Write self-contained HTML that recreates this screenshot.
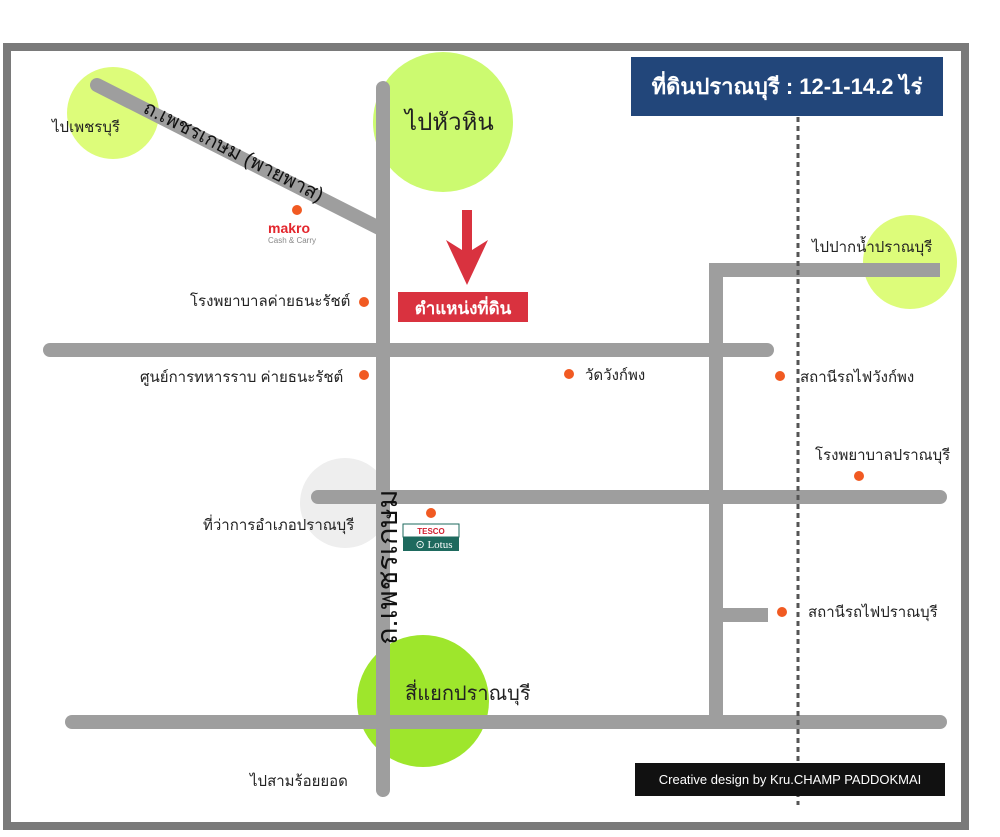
<!DOCTYPE html>
<html><head><meta charset="utf-8"><style>
body{margin:0;width:1000px;height:832px;background:#fff;overflow:hidden;font-family:"Liberation Sans","Noto Sans CJK SC",sans-serif}
</style></head><body>
<svg width="1000" height="832" xmlns="http://www.w3.org/2000/svg" font-family="Liberation Sans, Noto Sans CJK SC, sans-serif">
<rect x="7" y="47" width="958" height="779" fill="#fff" stroke="#7a7a7a" stroke-width="8"/>
<circle cx="113" cy="113" r="46" fill="#ddfc7a"/>
<circle cx="443" cy="122" r="70" fill="#ccfa70"/>
<circle cx="910" cy="262" r="47" fill="#ddfc7a"/>
<circle cx="345" cy="503" r="45" fill="#eeeeee"/>
<circle cx="423" cy="701" r="66" fill="#9ee62c"/>
<g stroke="#9e9e9e" stroke-width="14" stroke-linecap="round" fill="none">
<line x1="97" y1="85" x2="383" y2="230"/>
<line x1="383" y1="88" x2="383" y2="790"/>
<line x1="50" y1="350" x2="767" y2="350"/>
<line x1="318" y1="497" x2="940" y2="497"/>
<line x1="72" y1="722" x2="940" y2="722"/>
<polyline points="716,715 716,270 940,270" stroke-linecap="butt"/>
<line x1="716" y1="615" x2="768" y2="615" stroke-linecap="butt"/>
</g>
<line x1="798" y1="117" x2="798" y2="805" stroke="#555" stroke-width="3" stroke-dasharray="5,4"/>
<rect x="631" y="57" width="312" height="59" fill="#22467a"/>
<text x="787" y="94" fill="#fff" font-size="22" font-weight="bold" text-anchor="middle">ที่ดินปราณบุรี : 12-1-14.2 ไร่</text>
<polygon points="462,210 472,210 472,250 488,240 467,285 446,240 462,250" fill="#d9323f"/>
<rect x="398" y="292" width="130" height="30" fill="#d9323f"/>
<text x="463" y="314" fill="#fff" font-size="17" font-weight="bold" text-anchor="middle">ตำแหน่งที่ดิน</text>
<rect x="635" y="763" width="310" height="33" fill="#111"/>
<text x="790" y="784" fill="#fff" font-size="13" text-anchor="middle">Creative design by Kru.CHAMP PADDOKMAI</text>
<g fill="#222" font-size="15">
<text x="52" y="132">ไปเพชรบุรี</text>
<text x="405" y="130" font-size="24">ไปหัวหิน</text>
<text x="812" y="252">ไปปากน้ำปราณบุรี</text>
<text x="190" y="306">โรงพยาบาลค่ายธนะรัชต์</text>
<text x="140" y="382">ศูนย์การทหารราบ ค่ายธนะรัชต์</text>
<text x="585" y="380">วัดวังก์พง</text>
<text x="800" y="382">สถานีรถไฟวังก์พง</text>
<text x="815" y="460">โรงพยาบาลปราณบุรี</text>
<text x="203" y="530">ที่ว่าการอำเภอปราณบุรี</text>
<text x="808" y="617">สถานีรถไฟปราณบุรี</text>
<text x="405" y="700" font-size="20">สี่แยกปราณบุรี</text>
<text x="250" y="786">ไปสามร้อยยอด</text>
<text transform="translate(142,112) rotate(27)" font-size="20" fill="#111">ถ.เพชรเกษม (พายพาส)</text>
<text transform="translate(397,645) rotate(-90)" font-size="29" fill="#111">ถ.เพชรเกษม</text>
</g>
<g fill="#f15a22">
<circle cx="297" cy="210" r="5"/><circle cx="364" cy="302" r="5"/><circle cx="364" cy="375" r="5"/>
<circle cx="569" cy="374" r="5"/><circle cx="780" cy="376" r="5"/><circle cx="859" cy="476" r="5"/>
<circle cx="431" cy="513" r="5"/><circle cx="782" cy="612" r="5"/>
</g>
<text x="268" y="233" fill="#e3262d" font-size="14" font-weight="bold">makro</text>
<text x="268" y="243" fill="#888" font-size="8">Cash &amp; Carry</text>
<rect x="403" y="524" width="56" height="13" fill="#fff" stroke="#1e6a5e" stroke-width="1"/>
<text x="431" y="534" fill="#d02030" font-size="8" font-weight="bold" text-anchor="middle">TESCO</text>
<rect x="403" y="537" width="56" height="14" fill="#1e6a5e"/>
<text x="434" y="548" fill="#fff" font-size="11" font-family="Liberation Serif, serif" text-anchor="middle">⊙ Lotus</text>
</svg>
</body></html>
